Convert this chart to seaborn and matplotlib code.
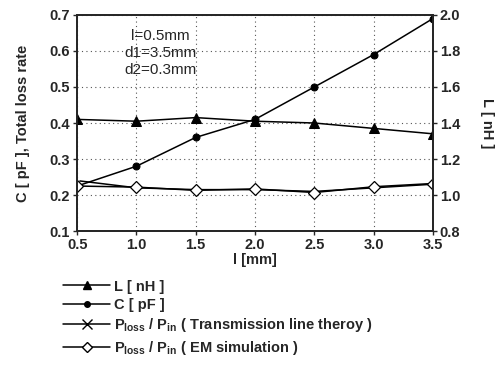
import pandas as pd
import matplotlib
matplotlib.use('Agg')
import matplotlib.pyplot as plt
import seaborn as sns
from matplotlib.lines import Line2D

# dados
l_mm = [0.5, 1.0, 1.5, 2.0, 2.5, 3.0, 3.5]
L_nH = [1.42, 1.41, 1.43, 1.41, 1.40, 1.37, 1.34]
C_pF = [0.225, 0.28, 0.36, 0.41, 0.50, 0.59, 0.69]
loss_tl = [0.24, 0.22, 0.215, 0.215, 0.21, 0.22, 0.23]
loss_em = [0.225, 0.222, 0.213, 0.217, 0.207, 0.223, 0.232]

x_ticks = [0.5, 1.0, 1.5, 2.0, 2.5, 3.0, 3.5]
y_left_ticks = [0.1, 0.2, 0.3, 0.4, 0.5, 0.6, 0.7]
y_right_ticks = [0.8, 1.0, 1.2, 1.4, 1.6, 1.8, 2.0]

df = pd.DataFrame({'l': l_mm, 'L': L_nH, 'C': C_pF, 'tl': loss_tl, 'em': loss_em})

sns.set_style('ticks')
plt.rcParams['font.family'] = ['Liberation Sans', 'DejaVu Sans']
plt.rcParams['mathtext.fontset'] = 'custom'
plt.rcParams['mathtext.rm'] = 'Liberation Sans:bold'
plt.rcParams['mathtext.it'] = 'Liberation Sans:bold'

fig = plt.figure(figsize=(5.01, 3.65), dpi=100)
ax = fig.add_axes([0.154, 0.367, 0.71, 0.592])
ax2 = ax.twinx()

lw = 1.1
sns.lineplot(data=df, x='l', y='C', ax=ax, color='black', lw=lw, marker='o', markersize=5, markeredgecolor='black')
sns.lineplot(data=df, x='l', y='tl', ax=ax, color='black', lw=lw, marker='x', markersize=7, markeredgewidth=1.0)
sns.lineplot(data=df, x='l', y='em', ax=ax, color='black', lw=lw, marker='D', markersize=6,
             markerfacecolor='white', markeredgecolor='black', markeredgewidth=0.9)
sns.lineplot(data=df, x='l', y='L', ax=ax2, color='black', lw=lw, marker='^', markersize=7, markeredgecolor='black')

ax.set_xlim(0.5, 3.5)
ax.set_ylim(0.1, 0.7)
ax2.set_ylim(0.8, 2.0)
ax.set_xticks(x_ticks)
ax.set_xticklabels([f'{v:.1f}' for v in x_ticks], fontsize=10.5, fontweight='bold')
ax.set_yticks(y_left_ticks)
ax.set_yticklabels([f'{v:.1f}' for v in y_left_ticks], fontsize=10.5, fontweight='bold')
ax2.set_yticks(y_right_ticks)
ax2.set_yticklabels([f'{v:.1f}' for v in y_right_ticks], fontsize=10.5, fontweight='bold')

ax.grid(True, linestyle=(0, (1, 3)), color='#555555', linewidth=0.8)
for a in (ax, ax2):
    for s in a.spines.values():
        s.set_linewidth(1.3)
    a.tick_params(width=1.0, length=3, pad=2)

ax.set_xlabel('l [mm]', fontsize=10.5, fontweight='bold', labelpad=1)
ax.set_ylabel('C [ pF ], Total loss rate', fontsize=10.5, fontweight='bold', labelpad=14)
ax2.set_ylabel('L [ nH ]', fontsize=10.5, fontweight='bold', rotation=270, labelpad=24)

ax.text(1.2, 0.595, 'l=0.5mm\nd1=3.5mm\nd2=0.3mm', ha='center', va='center',
        fontsize=11, linespacing=1.25)

handles = [
    Line2D([], [], color='black', lw=lw, marker='^', markersize=6),
    Line2D([], [], color='black', lw=lw, marker='o', markersize=4),
    Line2D([], [], color='black', lw=lw, marker='x', markersize=7),
    Line2D([], [], color='black', lw=lw, marker='D', markersize=5, markerfacecolor='white'),
]
labels = [
    'L [ nH ]',
    'C [ pF ]',
    r'P$_{loss}$ / P$_{in}$ ( Transmission line theroy )',
    r'P$_{loss}$ / P$_{in}$ ( EM simulation )',
]
fig.legend(handles, labels, loc='upper left', bbox_to_anchor=(0.1, 0.27), frameon=False,
           handlelength=3.2, handletextpad=0.3, labelspacing=0.3,
           prop={'weight': 'bold', 'size': 10.5})

fig.savefig('out.png', dpi=100)
